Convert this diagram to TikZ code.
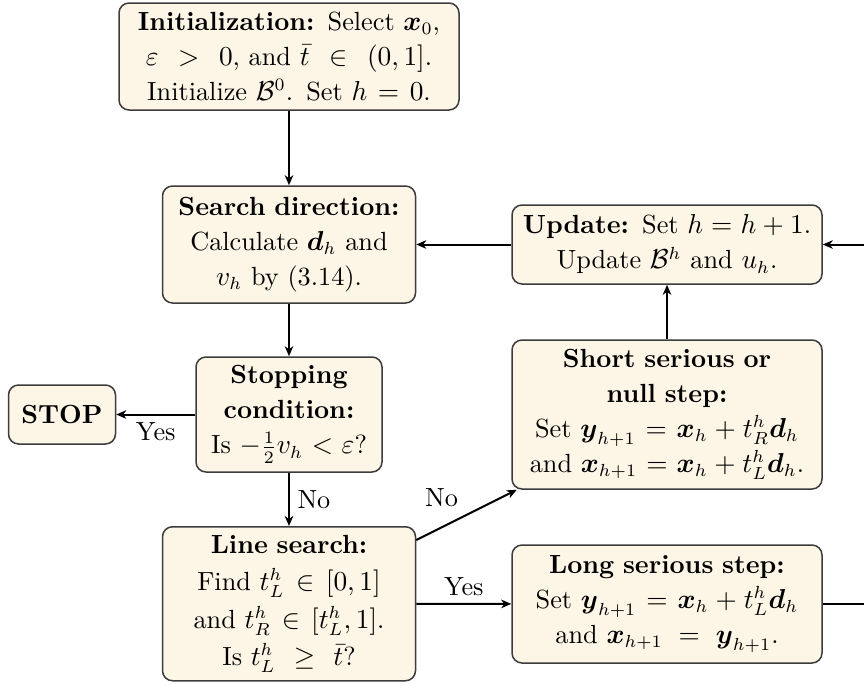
\documentclass[tikz,border=0pt]{standalone}
\usepackage{amsmath}
\usetikzlibrary{arrows.meta}
\definecolor{boxfill}{RGB}{253,245,230}
\definecolor{boxline}{RGB}{60,60,60}
\tikzset{
  stepbox/.style={draw=boxline, fill=boxfill, line width=0.6pt, rounded corners=4pt,
    inner sep=3pt, align=center, font=\fontsize{10.5pt}{14pt}\selectfont},
  flow/.style={line width=0.8pt, -{Stealth[length=4pt,width=3.4pt,inset=1.2pt]}},
  lbl/.style={inner sep=3pt, font=\fontsize{10.5pt}{14pt}\selectfont}
}
\newcommand{\bv}[1]{\boldsymbol{#1}}
\newcommand{\gapA}{\mskip6mu}
\newcommand{\gapB}{\mskip2mu}
\begin{document}
\begin{tikzpicture}[x=1pt,y=1pt]
  \clip (0,0) rectangle (345.6,-273.6);

  \node[stepbox, text width=130pt, minimum height=42.8pt] (init) at (115.6,-22.6)
    {\textbf{Initialization:} Select $\bv{x}_0$,\\
     $\varepsilon\gapA>\gapA 0$, and $\bar{t}\gapA\in\gapA(0,1]$.\\
     Initialize $\mathcal{B}^0$. Set $h=0$.};

  \node[stepbox, text width=95.2pt, minimum height=46.8pt] (search) at (115.6,-97.8)
    {\textbf{Search direction:}\\
     Calculate $\bv{d}_h$ and\\
     $v_h$ by (3.14).};

  \node[stepbox, text width=68.4pt, minimum height=46pt] (cond) at (115.6,-165.8)
    {\textbf{Stopping}\\
     \textbf{condition:}\\
     Is $-\frac{1}{2}v_h < \varepsilon$?};

  \node[stepbox, text width=36.8pt, minimum height=23.6pt] (stop) at (24.8,-165.8)
    {\textbf{STOP}};

  \node[stepbox, text width=95.2pt, minimum height=61.6pt,
        font=\fontsize{10.5pt}{15pt}\selectfont] (ls) at (115.6,-241.5)
    {\textbf{Line search:}\\
     Find $t_L^h \in [0,1]$\\
     and $t_R^h \in [t_L^h,1]$.\\
     Is $t_L^h\gapB\geq\gapB\bar{t}$?};

  \node[stepbox, text width=118pt, minimum height=31.6pt] (update) at (266.8,-97.8)
    {\textbf{Update:} Set $h=h+1$.\\
     Update $\mathcal{B}^h$ and $u_h$.};

  \node[stepbox, text width=118pt, minimum height=59.6pt] (short) at (266.8,-165.8)
    {\textbf{Short serious or}\\
     \textbf{null step:}\\
     Set $\bv{y}_{h+1} = \bv{x}_h + t_R^h\bv{d}_h$\\
     and $\bv{x}_{h+1} = \bv{x}_h + t_L^h\bv{d}_h$.};

  \node[stepbox, text width=118pt, minimum height=47.2pt] (long) at (266.8,-241.6)
    {\textbf{Long serious step:}\\
     Set $\bv{y}_{h+1} = \bv{x}_h + t_L^h\bv{d}_h$\\
     and $\bv{x}_{h+1}\gapB=\gapB\bv{y}_{h+1}$.};

  % connectors
  \draw[flow] (init) -- (search);
  \draw[flow] (search) -- (cond);
  \draw[flow] (cond) -- node[lbl, below] {Yes} (stop);
  \draw[flow] (cond) -- node[lbl, right] {No} (ls);
  \draw[flow] (ls) -- node[lbl, above left] {No} (short);
  \draw[flow] (ls) -- node[lbl, above] {Yes} (long);
  \draw[flow] (short) -- (update);
  \draw[flow] (update) -- (search);
  \coordinate (loop) at (356,-241.6);
  \draw[flow] (long.east) -- (loop) |- (update.east);
\end{tikzpicture}
\end{document}
